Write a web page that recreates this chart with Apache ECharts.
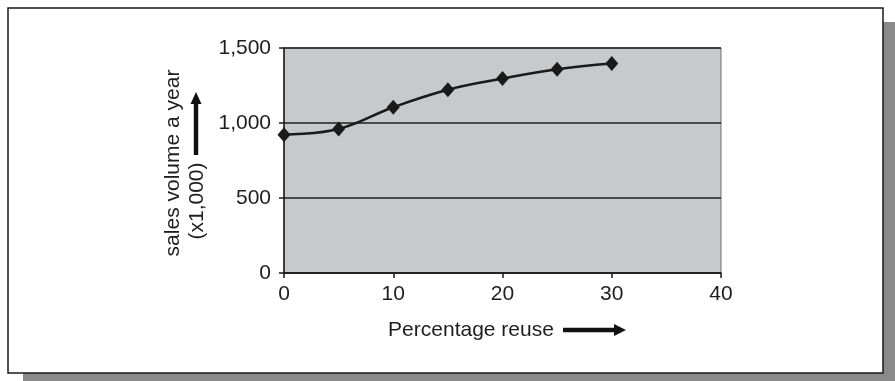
<!DOCTYPE html>
<html>
<head>
<meta charset="utf-8">
<style>html,body{margin:0;padding:0;background:#fff;}#c{width:895px;height:381px;}</style>
<script src="https://cdn.jsdelivr.net/npm/echarts@6/dist/echarts.min.js"></script>
</head>
<body>
<div id="c"></div>
<script>
const reuse = [0, 5, 10, 15, 20, 25, 30];
const sales = [922, 960, 1105, 1222, 1296, 1358, 1396];
const yTicks = [0, 500, 1000, 1500];
const xTicks = [0, 10, 20, 30, 40];
const xTitle = 'Percentage reuse';
const yTitle1 = 'sales volume a year';
const yTitle2 = '(x1,000)';

const FONT = '"Liberation Sans", Arial, sans-serif';
const chart = echarts.init(document.getElementById('c'));
chart.setOption({
  animation: false,
  backgroundColor: '#fff',
  grid: {left: 284, top: 48, right: 174, bottom: 108, show: true,
         backgroundColor: '#c8c9cb', borderColor: '#6e6e6e', borderWidth: 1},
  xAxis: {
    type: 'value', min: xTicks[0], max: xTicks[xTicks.length - 1], interval: 10,
    axisLine: {show: true, onZero: false, lineStyle: {color: '#1a1a1a', width: 1.5}},
    axisTick: {show: true, length: 5, lineStyle: {color: '#1a1a1a', width: 1.5}},
    axisLabel: {color: '#1e1e1e', fontFamily: FONT, fontSize: 21, margin: 11},
    splitLine: {show: false}
  },
  yAxis: {
    type: 'value', min: yTicks[0], max: yTicks[yTicks.length - 1], interval: 500,
    axisLine: {show: true, onZero: false, lineStyle: {color: '#1a1a1a', width: 1.5}},
    axisTick: {show: true, length: 5, lineStyle: {color: '#1a1a1a', width: 1.5}},
    axisLabel: {color: '#1e1e1e', fontFamily: FONT, fontSize: 21, margin: 13,
      formatter: v => v.toLocaleString('en-US')},
    splitLine: {show: true, lineStyle: {color: '#1e1e1e', width: 1.5}}
  },
  series: [{
    type: 'line',
    data: reuse.map((x, i) => [x, sales[i]]),
    smooth: 0.4,
    symbol: 'diamond',
    symbolSize: [13, 15],
    lineStyle: {color: '#1a1a1a', width: 2.5},
    itemStyle: {color: '#1a1a1a'},
    z: 5
  }],
  graphic: [
    {type: 'rect', z: -10, shape: {x: 23, y: 22, width: 900, height: 400}, style: {fill: '#8a8a8a'}},
    {type: 'rect', z: -9, shape: {x: 8, y: 8, width: 875, height: 365}, style: {fill: '#fff', stroke: '#1a1a1a', lineWidth: 1.5}},
    {type: 'text', x: 173, y: 163, rotation: Math.PI / 2,
      style: {text: yTitle1, font: '21px ' + FONT, fill: '#1e1e1e', textAlign: 'center', textVerticalAlign: 'middle'}},
    {type: 'text', x: 197, y: 201, rotation: Math.PI / 2,
      style: {text: yTitle2, font: '21px ' + FONT, fill: '#1e1e1e', textAlign: 'center', textVerticalAlign: 'middle'}},
    {type: 'polygon', shape: {points: [[193.8, 155], [198.2, 155], [198.2, 104], [201.5, 104], [196, 92], [190.5, 104], [193.8, 104]]},
      style: {fill: '#111'}},
    {type: 'text', x: 471, y: 330,
      style: {text: xTitle, font: '21px ' + FONT, fill: '#1e1e1e', textAlign: 'center', textVerticalAlign: 'middle'}},
    {type: 'polygon', shape: {points: [[563, 327.8], [614, 327.8], [614, 324], [626, 330], [614, 336], [614, 332.2], [563, 332.2]]},
      style: {fill: '#111'}}
  ]
});
</script>
</body>
</html>
